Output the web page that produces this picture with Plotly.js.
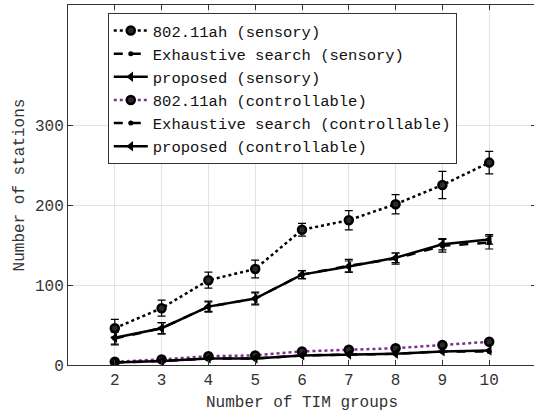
<!DOCTYPE html>
<html><head><meta charset="utf-8">
<script src="https://cdn.plot.ly/plotly-3.0.1.min.js"></script>
<style>html,body{margin:0;padding:0;overflow:hidden;background:#fff}</style>
</head><body><div id="chart" style="width:540px;height:413px"></div>
<script>
const groups = [2,3,4,5,6,7,8,9,10];
const ahSensory = [46,71,106,120,169,181,201,225,253];
const ahSensoryErr = [11,10,10,11,8,12,12,17,14];
const exSensory = [33,46,73,83,113,124,133,149,153];
const exSensoryErr = [8,7,7,8,5,8,7,8,8];
const prSensory = [34,46,73,83,113,123,134,151,157];
const prSensoryErr = [8,7,6,7,5,7,6,7,6];
const ahCtrl = [4,7,11,12,17,19,21,25,29];
const exCtrl = [3,5,8,8,12,13,14,17,17];
const prCtrl = [3,5,8,8,12,13,14,17,18];
const names = ['802.11ah (sensory)','Exhaustive search (sensory)','proposed (sensory)',
  '802.11ah (controllable)','Exhaustive search (controllable)','proposed (controllable)'];

function tr(y, err, name, color, dash, width, symbol, size, mcolor, mline){
  const t = {x: groups, y: y, name: name, type: 'scatter', mode: 'lines+markers',
    line: {color: color, dash: dash, width: width},
    marker: {symbol: symbol, size: size, color: mcolor, line: {color: '#000', width: mline}}};
  if (err) t.error_y = {type: 'data', array: err, visible: true, color: '#000', thickness: 1.2, width: 4};
  return t;
}
const data = [
  tr(ahSensory, ahSensoryErr, names[0], '#000', 'dot', 2.5, 'circle', 8, '#2a2a2a', 2.5),
  tr(exSensory, exSensoryErr, names[1], '#000', 'dash', 2.5, 'circle', 5, '#000', 0),
  tr(prSensory, prSensoryErr, names[2], '#000', 'solid', 2.5, 'triangle-left', 9, '#000', 0),
  tr(ahCtrl, null, names[3], '#7E2F8E', 'dot', 2.5, 'circle', 8, '#2a2a2a', 2.5),
  tr(exCtrl, null, names[4], '#000', 'dash', 2.5, 'circle', 5, '#000', 0),
  tr(prCtrl, null, names[5], '#000', 'solid', 2.5, 'triangle-left', 9, '#000', 0)
];
const fam = 'Liberation Mono, Courier New, monospace';
const font = {family: fam, size: 16, color: '#333'};
const layout = {
  width: 540, height: 413,
  margin: {l: 68, r: 4, t: 5, b: 48},
  paper_bgcolor: '#fff', plot_bgcolor: '#fff',
  font: font,
  showlegend: true,
  legend: {x: 0.085, y: 0.978, xanchor: 'left', yanchor: 'top', bgcolor: '#fff',
    bordercolor: '#333', borderwidth: 1, font: {family: fam, size: 15.5, color: '#111'},
    itemwidth: 34, tracegroupgap: 0},
  xaxis: {range: [1, 11], tickvals: groups, ticks: 'inside', ticklen: 5, tickcolor: '#333',
    showline: true, linecolor: '#333', linewidth: 1, mirror: 'ticks',
    showgrid: true, gridcolor: '#e3e3e3', zeroline: false,
    title: {text: 'Number of TIM groups', font: {family: fam, size: 16, color: '#333'}, standoff: 6}},
  yaxis: {range: [0, 450], tickvals: [0,100,200,300], ticks: 'inside', ticklen: 5, tickcolor: '#333',
    showline: true, linecolor: '#333', linewidth: 1, mirror: 'ticks',
    showgrid: true, gridcolor: '#e3e3e3', zeroline: false,
    title: {text: 'Number of stations', font: {family: fam, size: 16, color: '#333'}, standoff: 6}}
};
Plotly.newPlot('chart', data, layout, {displayModeBar: false, staticPlot: true});
</script></body></html>
